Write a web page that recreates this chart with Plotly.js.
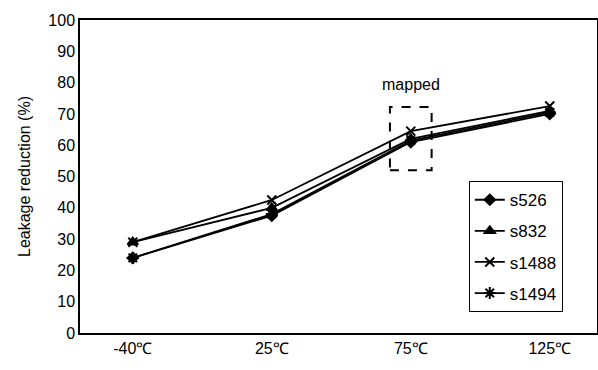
<!DOCTYPE html>
<html><head><meta charset="utf-8">
<script src="https://cdn.plot.ly/plotly-3.0.1.min.js"></script>
<style>body{margin:0;background:#fff}#c{width:598px;height:370px}</style>
</head><body><div id="c"></div>
<script>
const categories = ["-40℃", "25℃", "75℃", "125℃"];
const s526 = [24, 37.5, 61, 70];
const s832 = [29, 40, 62, 71];
const s1488 = [29, 42.5, 64.5, 72.5];
const s1494 = [24, 38, 61.5, 70.5];
const seriesNames = ["s526", "s832", "s1488", "s1494"];
const yTicks = [0, 10, 20, 30, 40, 50, 60, 70, 80, 90, 100];

const symbols = ["diamond", "triangle-up", "x-thin-open", "asterisk-open"];
const sizes = [8, 9, 9, 10];
const data = [s526, s832, s1488, s1494].map((v, i) => ({
  x: categories, y: v, name: seriesNames[i], legendgroup: "g" + i, type: "scatter", mode: "lines+markers",
  line: {color: "#000", width: 1.8},
  marker: {symbol: symbols[i], size: sizes[i], color: "#000", line: {color: "#000", width: 2}}
}));

const layout = {
  width: 598, height: 370,
  margin: {l: 80, r: 1, t: 20, b: 37},
  paper_bgcolor: "#fff", plot_bgcolor: "#fff",
  font: {family: "Liberation Sans, Arial, sans-serif", size: 16, color: "#000"},
  showlegend: true,
  legend: {x: 0.752, y: 0.485, xanchor: "left", yanchor: "top", bordercolor: "#000", borderwidth: 1,
    font: {size: 17}, tracegroupgap: 6, itemwidth: 30},
  xaxis: {type: "category", range: [-0.38, 3.34], showgrid: false, showline: true, linecolor: "#000",
    linewidth: 2, mirror: true, ticks: "", tickfont: {size: 16}, zeroline: false},
  yaxis: {range: [0, 100], tickvals: yTicks, showgrid: false, showline: true, linecolor: "#000",
    linewidth: 1.5, mirror: true, ticks: "", tickfont: {size: 16}, zeroline: false,
    title: {text: "Leakage reduction (%)", font: {size: 16}, standoff: 14}},
  shapes: [{type: "rect", xref: "x", yref: "y", x0: 1.85, x1: 2.15, y0: 52, y1: 72.2,
    line: {color: "#000", width: 2, dash: "dash"}}],
  annotations: [{xref: "x", yref: "y", x: 2, y: 76, text: "mapped", showarrow: false,
    yanchor: "bottom", font: {size: 16}}]
};
Plotly.newPlot("c", data, layout, {displayModeBar: false});
</script></body></html>
